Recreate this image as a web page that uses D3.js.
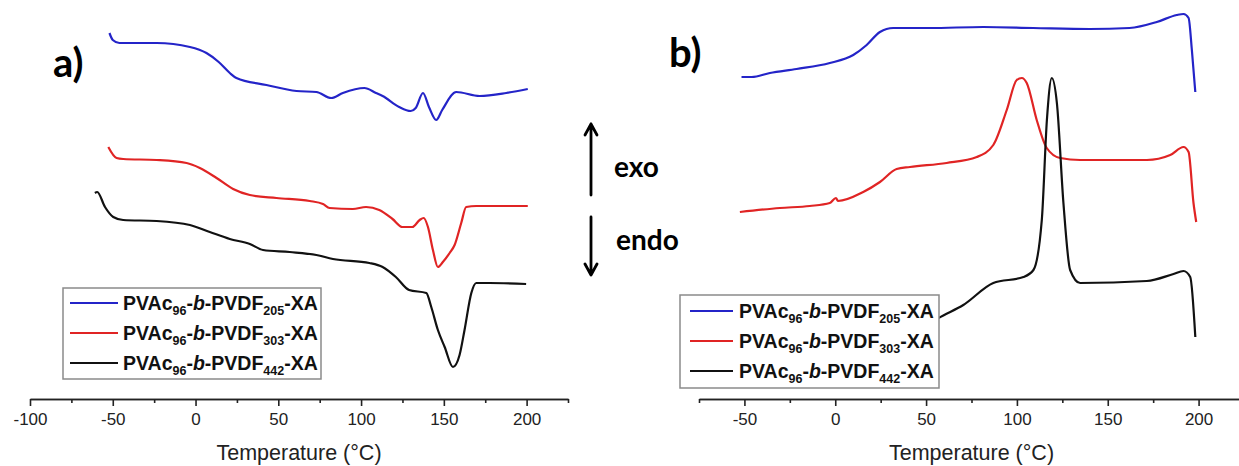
<!DOCTYPE html>
<html>
<head>
<meta charset="utf-8">
<title>DSC traces PVAc-b-PVDF</title>
<script src="https://d3js.org/d3.v7.min.js"></script>
<style>
  body { margin: 0; padding: 0; background: #fff; }
  .tick text { font-family: "Liberation Sans", Arial, sans-serif; font-size: 17px; fill: #222; }
  .tick line, .domain { stroke: #222; stroke-width: 1.6px; }
  .axis-title { font-family: "Liberation Sans", Arial, sans-serif; font-size: 21.5px; fill: #222; }
  .legend text { font-family: "Liberation Sans", Arial, sans-serif; font-weight: bold; font-size: 19.5px; fill: #111; }
  .big { font-family: Lato, "Open Sans", sans-serif; font-weight: bold; fill: #000; }
</style>
</head>
<body>
<div id="chart"></div>
<script>
// ---- data (temperature in °C, heat flow in arbitrary units) ----
const series = ["205", "303", "442"];          // PVDF block length
const colors = ["#2424c8", "#e02424", "#111111"];

// panel a) heating traces
const tA205 = [-52, -50, -46, -23.5, -3.4, 6.6, 14, 20.7, 24.7, 42.8, 61, 73, 82, 89, 102, 109, 113, 123, 130, 133, 137.4, 141, 145.4, 149, 157.5, 171.6, 187.7, 200.7];
const hA205 = [36.6, 35.9, 35.6, 35.6, 35.2, 34.6, 33.7, 32.6, 32.1, 31.4, 30.8, 30.7, 30.1, 30.6, 31.1, 30.6, 30.3, 29.2, 28.8, 29.1, 30.6, 29.2, 27.9, 28.9, 30.7, 30.3, 30.6, 31.0];
const tA303 = [-52.7, -47.7, -43.7, -23.5, -5.4, 2.6, 12.7, 22.7, 32.8, 48.9, 69, 77, 81, 95, 103, 111, 119, 125, 131, 135.4, 137.8, 140.4, 143.4, 146.4, 149.4, 153.5, 156.5, 160.5, 163.5, 169.6, 200.7];
const hA303 = [25.2, 24.1, 24.0, 23.9, 23.6, 23.1, 22.1, 21.0, 20.4, 20.1, 19.8, 19.5, 19.1, 19.0, 19.2, 18.9, 18.0, 17.2, 17.2, 17.9, 18.1, 17.2, 14.9, 13.2, 13.7, 14.6, 15.4, 17.6, 19.2, 19.3, 19.3];
const tA442 = [-60.8, -59.4, -54.7, -49.7, -43.7, -23.5, -3.4, 8.6, 20.7, 32.8, 40.8, 56.9, 73, 83, 105, 113, 121, 129, 139.4, 142.4, 146.4, 150.5, 155.5, 159.5, 162.5, 166.6, 169.6, 177.6, 199.7];
const hA442 = [20.6, 20.7, 19.2, 18.2, 17.9, 17.8, 17.4, 16.7, 16.0, 15.5, 14.9, 14.7, 14.4, 14.0, 13.6, 13.2, 12.2, 10.9, 10.6, 9.2, 6.9, 5.2, 3.2, 4.4, 6.9, 10.6, 11.6, 11.6, 11.5];

// panel b) cooling traces
const tB205 = [-51.6, -46, -36, -21.3, -3, 9.9, 17.3, 24.6, 31.9, 52, 81.5, 109, 140, 162, 177, 188, 191.7, 194.5, 196.3, 198.2];
const hB205 = [32.2, 32.2, 32.6, 33.0, 33.6, 34.4, 35.4, 36.7, 37.1, 37.1, 37.2, 37.1, 37.0, 37.1, 37.7, 38.4, 38.5, 38.1, 34.9, 30.7];
const tB303 = [-52.5, -30.5, -14, -3, 0.4, 1.5, 15.4, 24.6, 33.8, 41.1, 61.3, 77.9, 87, 94.4, 99.9, 102.7, 105.4, 110.9, 116.4, 123.8, 134.8, 171.5, 184.4, 191.7, 194.5, 197.2, 198.7];
const hB303 = [18.7, 19.1, 19.3, 19.6, 20.1, 19.8, 20.7, 21.7, 23.0, 23.2, 23.6, 24.2, 25.4, 28.9, 31.9, 32.1, 31.6, 27.9, 25.1, 24.1, 23.9, 23.9, 24.4, 25.2, 24.7, 19.6, 17.7];
const tB442 = [-52, 0, 30, 45, 56.8, 70.5, 87, 103.6, 109.1, 113.7, 116.5, 119.2, 122, 125.6, 129.3, 134.8, 171.5, 186.2, 191.7, 195.4, 198.2];
const hB442 = [2.7, 3.9, 5.4, 6.7, 8.1, 9.4, 11.6, 12.2, 12.9, 17.9, 27.9, 32.1, 29.6, 19.6, 12.9, 11.6, 11.8, 12.5, 12.8, 12.2, 6.2];

const majorA = [-100, -50, 0, 50, 100, 150, 200];
const majorB = [-50, 0, 50, 100, 150, 200];

// ---- layout ----
const W = 1239, H = 466;
const svg = d3.select("#chart").append("svg")
    .attr("width", W).attr("height", H);

const axisY = 399;
const y = d3.scaleLinear().domain([0, 38]).range([axisY, 19]);

const panels = [
    { label: "a)", lx: 53, ly: 77,
      x: d3.scaleLinear().domain([-100, 225]).range([30, 568]),
      major: majorA,
      traces: [[tA205, hA205], [tA303, hA303], [tA442, hA442]],
      legend: { x: 63, y: 288, w: 258, h: 91, lineX: [70, 118], textX: 123, rows: [303, 333, 363] } },
    { label: "b)", lx: 669, ly: 67,
      x: d3.scaleLinear().domain([-75, 225]).range([699, 1244]),
      major: majorB,
      traces: [[tB205, hB205], [tB303, hB303], [tB442, hB442]],
      legend: { x: 680, y: 295, w: 259, h: 93, lineX: [690, 733], textX: 739, rows: [311, 341, 371] } }
];

panels.forEach(p => {
    const g = svg.append("g");
    const [d0, d1] = p.x.domain();
    const minor = d3.range(d0, d1 + 1, 25).filter(v => !p.major.includes(v));

    // minor ticks
    g.append("g")
        .attr("transform", `translate(0,${axisY})`)
        .call(d3.axisBottom(p.x).tickValues(minor).tickSize(4).tickSizeOuter(0).tickFormat(""));
    // major ticks + labels
    g.append("g")
        .attr("transform", `translate(0,${axisY})`)
        .call(d3.axisBottom(p.x).tickValues(p.major).tickSize(7).tickSizeOuter(0).tickPadding(5)
            .tickFormat(d => String(d)))
        .call(a => a.selectAll(".tick text").attr("dy", "0.85em"));

    g.append("text")
        .attr("class", "axis-title")
        .attr("x", (p.x.range()[0] + Math.min(p.x.range()[1], W + 5)) / 2)
        .attr("y", 460)
        .attr("text-anchor", "middle")
        .text("Temperature (°C)");

    // traces
    const line = d3.line()
        .x(d => p.x(d[0]))
        .y(d => y(d[1]))
        .curve(d3.curveMonotoneX);
    p.traces.forEach((tr, i) => {
        const pts = tr[0].map((t, k) => [t, tr[1][k]]);
        g.append("path")
            .datum(pts)
            .attr("fill", "none")
            .attr("stroke", colors[i])
            .attr("stroke-width", 2.2)
            .attr("stroke-linejoin", "round")
            .attr("d", line);
    });

    // legend
    const L = p.legend;
    const lg = g.append("g").attr("class", "legend");
    lg.append("rect")
        .attr("x", L.x).attr("y", L.y).attr("width", L.w).attr("height", L.h)
        .attr("fill", "#fff").attr("stroke", "#8a8a8a").attr("stroke-width", 1.5);
    series.forEach((s, i) => {
        lg.append("line")
            .attr("x1", L.lineX[0]).attr("x2", L.lineX[1])
            .attr("y1", L.rows[i]).attr("y2", L.rows[i])
            .attr("stroke", colors[i]).attr("stroke-width", 2.2);
        const t = lg.append("text").attr("x", L.textX).attr("y", L.rows[i] + 7);
        t.append("tspan").text("PVAc");
        t.append("tspan").attr("font-size", 12.5).attr("dy", 5).text("96");
        t.append("tspan").attr("dy", -5).text("-");
        t.append("tspan").attr("font-style", "italic").text("b");
        t.append("tspan").text("-PVDF");
        t.append("tspan").attr("font-size", 12.5).attr("dy", 5).text(s);
        t.append("tspan").attr("dy", -5).text("-XA");
    });

    svg.append("text")
        .attr("class", "big")
        .attr("x", p.lx).attr("y", p.ly)
        .attr("font-size", 40)
        .text(p.label);
});

// exo / endo arrows
const arrowX = 591;
const arrows = [[195, 124], [217, 275]];
arrows.forEach(([from, to]) => {
    const dir = Math.sign(to - from);
    svg.append("path")
        .attr("d", `M${arrowX},${from}L${arrowX},${to}M${arrowX - 6},${to - dir * 11}L${arrowX},${to}L${arrowX + 6},${to - dir * 11}`)
        .attr("fill", "none").attr("stroke", "#000").attr("stroke-width", 2.8)
        .attr("stroke-linecap", "round").attr("stroke-linejoin", "round");
});
svg.append("text").attr("class", "big").attr("x", 614).attr("y", 177).attr("font-size", 28).text("exo");
svg.append("text").attr("class", "big").attr("x", 616).attr("y", 250).attr("font-size", 28).text("endo");
</script>
</body>
</html>
